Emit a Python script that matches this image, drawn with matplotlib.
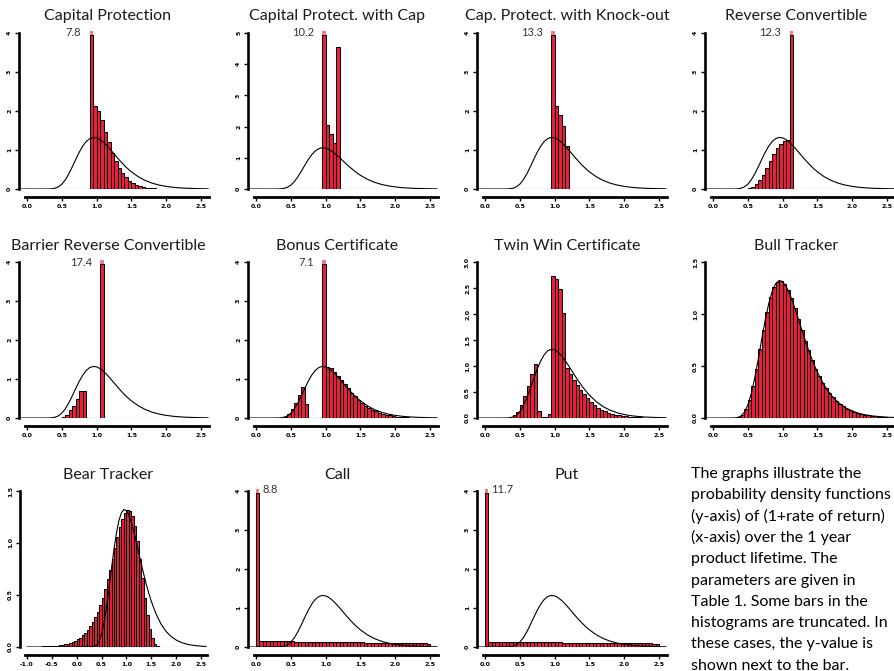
import matplotlib
matplotlib.use("Agg")
import matplotlib.pyplot as plt

plt.rcParams["font.family"] = ["Lato", "DejaVu Sans"]

W, H = 895, 671
BIN = 0.05
RED = "#EF1F3D"
PINK = "#F3798F"

# lognormal reference curve
curve_x = [-1.0, 0.0, 0.25, 0.3, 0.35, 0.4, 0.45, 0.5, 0.55, 0.6, 0.65, 0.7, 0.75,
           0.8, 0.85, 0.9, 0.95, 1.0, 1.05, 1.1, 1.15, 1.2, 1.25, 1.3, 1.35, 1.4,
           1.45, 1.5, 1.6, 1.7, 1.8, 1.9, 2.0, 2.1, 2.2, 2.3, 2.4, 2.5, 2.6]
curve_y = [0, 0, 0.0001, 0.0007, 0.0046, 0.019, 0.054, 0.124, 0.235, 0.386, 0.566,
           0.758, 0.941, 1.098, 1.217, 1.292, 1.322, 1.311, 1.266, 1.195, 1.106,
           1.006, 0.901, 0.796, 0.696, 0.602, 0.516, 0.439, 0.312, 0.217, 0.148,
           0.100, 0.067, 0.044, 0.029, 0.019, 0.013, 0.008, 0.005]

# histograms: first bin edge and densities per 0.05 bin
cap_prot_start = 0.90
cap_prot = [7.8, 2.14, 1.99, 1.76, 1.47, 1.20, 0.92, 0.72, 0.55, 0.41, 0.30, 0.21,
            0.15, 0.11, 0.08, 0.05, 0.035, 0.025, 0.018, 0.012, 0.010, 0.008,
            0.006, 0.005, 0.004, 0.003, 0.003, 0.002, 0.002, 0.001, 0.001, 0.001]

cap_cap_start = 0.95
cap_cap = [10.2, 2.06, 1.77, 1.47, 4.54]

knock_start = 0.95
knock = [13.3, 2.12, 1.91, 1.62, 1.09]

rev_conv_start = 0.50
rev_conv = [0.02, 0.05, 0.14, 0.24, 0.37, 0.54, 0.72, 0.89, 1.04, 1.15, 1.23, 1.26, 12.3]

barrier_start = 0.45
barrier = [0.01, 0.03, 0.085, 0.20, 0.32, 0.50, 0.68, 0.68, 0, 0, 0, 0, 17.4]

bonus_start = 0.40
bonus = [0.02, 0.11, 0.22, 0.39, 0.58, 0.79, 0.35, 0, 0, 0, 0, 7.1,
         1.31, 1.28, 1.18, 1.08, 0.97, 0.86, 0.76, 0.65, 0.56, 0.47, 0.39, 0.32,
         0.26, 0.21, 0.17, 0.14, 0.11, 0.085, 0.065, 0.05, 0.038, 0.029, 0.022,
         0.016, 0.012, 0.009, 0.007, 0.005, 0.004, 0.003]

twin_start = 0.40
twin = [0.05, 0.12, 0.25, 0.42, 0.62, 0.84, 1.03, 0.13, 0.02, 0.02, 0.08,
        2.74, 2.68, 2.48, 2.01, 0.97, 0.85, 0.74, 0.64, 0.545, 0.455, 0.38, 0.31,
        0.25, 0.20, 0.16, 0.13, 0.10, 0.08, 0.065, 0.05, 0.04, 0.03, 0.023, 0.017,
        0.013, 0.010, 0.008, 0.006, 0.004, 0.003, 0.002]

bull_start = 0.30
bull = [0.002, 0.010, 0.033, 0.085, 0.175, 0.305, 0.47, 0.66, 0.85, 1.02, 1.16,
        1.26, 1.31, 1.32, 1.29, 1.23, 1.15, 1.055, 0.955, 0.85, 0.745, 0.65, 0.56,
        0.475, 0.405, 0.34, 0.285, 0.24, 0.20, 0.165, 0.136, 0.112, 0.09, 0.074,
        0.06, 0.049, 0.04, 0.033, 0.026, 0.021, 0.017, 0.014, 0.011, 0.009]

bear_start = -1.00
bear = [0.002, 0.0025, 0.003, 0.0035, 0.004, 0.0045, 0.005, 0.006, 0.0075, 0.008,
        0.009, 0.011, 0.014, 0.017, 0.021, 0.026, 0.033, 0.04, 0.049, 0.06,
        0.074, 0.09, 0.112, 0.136, 0.165, 0.20, 0.24, 0.285, 0.34, 0.405, 0.475,
        0.56, 0.65, 0.745, 0.85, 0.955, 1.055, 1.15, 1.23, 1.29, 1.32, 1.31, 1.26,
        1.16, 1.02, 0.85, 0.66, 0.47, 0.305, 0.175, 0.085, 0.033, 0.010, 0.002]

call_start = 0.0
call = [8.8, 0.155, 0.154, 0.152, 0.152, 0.150, 0.148, 0.147, 0.146, 0.144, 0.143,
        0.141, 0.140, 0.139, 0.137, 0.136, 0.135, 0.133, 0.132, 0.131, 0.129,
        0.128, 0.127, 0.125, 0.124, 0.123, 0.121, 0.120, 0.119, 0.117, 0.116,
        0.114, 0.113, 0.112, 0.110, 0.109, 0.108, 0.106, 0.105, 0.104, 0.102,
        0.101, 0.099, 0.098, 0.097, 0.095, 0.094, 0.092, 0.091, 0.089]

put_start = 0.0
put = [11.7, 0.130, 0.129, 0.129, 0.128, 0.128, 0.127, 0.126, 0.126, 0.125, 0.124,
       0.124, 0.123, 0.122, 0.122, 0.121, 0.120, 0.119, 0.119, 0.118, 0.117,
       0.116, 0.115, 0.114, 0.113, 0.112, 0.111, 0.110, 0.109, 0.108, 0.107,
       0.106, 0.105, 0.104, 0.103, 0.102, 0.101, 0.100, 0.099, 0.098, 0.097,
       0.096, 0.095, 0.094, 0.093, 0.092, 0.091, 0.090, 0.089, 0.088]

titles = ["Capital Protection", "Capital Protect. with Cap", "Cap. Protect. with Knock-out",
          "Reverse Convertible", "Barrier Reverse Convertible", "Bonus Certificate",
          "Twin Win Certificate", "Bull Tracker", "Bear Tracker", "Call", "Put"]
starts = [cap_prot_start, cap_cap_start, knock_start, rev_conv_start, barrier_start,
          bonus_start, twin_start, bull_start, bear_start, call_start, put_start]
series = [cap_prot, cap_cap, knock, rev_conv, barrier, bonus, twin, bull, bear, call, put]
ymaxes = [4, 5, 4, 4, 4, 4, 3.0, 1.5, 1.5, 4, 4]
ysteps = [1, 1, 1, 1, 1, 1, 0.5, 0.5, 0.5, 1, 1]

note_lines = ["The graphs illustrate the", "probability density functions",
              "(y-axis) of (1+rate of return)", "(x-axis) over the 1 year",
              "product lifetime. The", "parameters are given in",
              "Table 1. Some bars in the", "histograms are truncated. In",
              "these cases, the y-value is", "shown next to the bar."]

# layout in pixels
col_left = [19, 248, 477, 705]
col_center = [108, 337, 567, 796]
row_top = [33, 262, 491]
title_y = [16, 246, 475]
ax_h = 156

fig = plt.figure(figsize=(W / 100, H / 100), dpi=100)

for i, (title, start, vals) in enumerate(zip(titles, starts, series)):
    r, c = divmod(i, 4)
    ymax = ymaxes[i]
    bear_panel = title == "Bear Tracker"
    if bear_panel:
        x0, x1, left, width = -1.14, 2.62, 20, 187
    else:
        x0, x1, left, width = -0.115, 2.62, col_left[c], 190.4
    ax = fig.add_axes([left / W, 1 - (row_top[r] + ax_h) / H, width / W, ax_h / H])

    xs = [start + k * BIN for k in range(len(vals))]
    cap = ymax * 0.985
    shown = [min(v, cap) for v in vals]
    ax.bar(xs, shown, width=BIN, align="edge", color=RED, edgecolor="black",
           linewidth=0.75, zorder=2)
    # truncated bars get a pink cap and their value as text
    for xv, v in zip(xs, vals):
        if v > ymax:
            ax.bar(xv, ymax * 0.025, bottom=cap, width=BIN, align="edge",
                   color=PINK, linewidth=0, zorder=3, clip_on=False)
            if xv < 0.5:
                ax.text(xv + BIN + 0.04, ymax * 1.01, f"{v:.1f}", ha="left",
                        va="center", fontsize=8, color="#333333")
            else:
                ax.text(xv - 0.12, ymax, f"{v:.1f}", ha="right", va="center",
                        fontsize=8, color="#333333")

    ax.plot(curve_x, curve_y, color="black", lw=0.8, zorder=4)
    ax.hlines(0, -1.0 if bear_panel else 0.0, x1, color="0.45", lw=0.8, zorder=1)

    ax.set_xlim(x0, x1)
    ax.set_ylim(0, ymax)
    if bear_panel:
        xt = [-1.0, -0.5, 0.0, 0.5, 1.0, 1.5, 2.0, 2.5]
        ax.spines["bottom"].set_bounds(-1.03, x1)
    else:
        xt = [0.0, 0.5, 1.0, 1.5, 2.0, 2.5]
        ax.spines["bottom"].set_bounds(-0.03, x1)
    ax.set_xticks(xt)
    ax.set_xticklabels([f"{t:.1f}" for t in xt])
    step = ysteps[i]
    nt = int(round(ymax / step)) + 1
    yt = [k * step for k in range(nt)]
    ax.set_yticks(yt)
    if step < 1:
        ax.set_yticklabels([f"{t:.1f}" for t in yt], rotation=90, va="center")
    else:
        ax.set_yticklabels([f"{int(t)}" for t in yt], rotation=90, va="center")

    for s in ["top", "right"]:
        ax.spines[s].set_visible(False)
    ax.spines["bottom"].set_position(("outward", 6))
    ax.spines["left"].set_linewidth(1.9)
    ax.spines["bottom"].set_linewidth(2.0)
    ax.tick_params(axis="both", direction="out", length=3, width=1, pad=2)
    for lab in ax.get_xticklabels() + ax.get_yticklabels():
        lab.set_fontsize(4.5)
        lab.set_fontweight("bold")
        lab.set_family("DejaVu Sans")
    ax.patch.set_alpha(0)

    fig.text(col_center[c] / W, 1 - title_y[r] / H, title, ha="center", va="center",
             fontsize=11.5, color="#1a1a1a")

for k, line in enumerate(note_lines):
    fig.text(691 / W, 1 - (474 + k * 21.3) / H, line, ha="left", va="center",
             fontsize=11.5, color="black")

fig.savefig("out.png", dpi=100)
